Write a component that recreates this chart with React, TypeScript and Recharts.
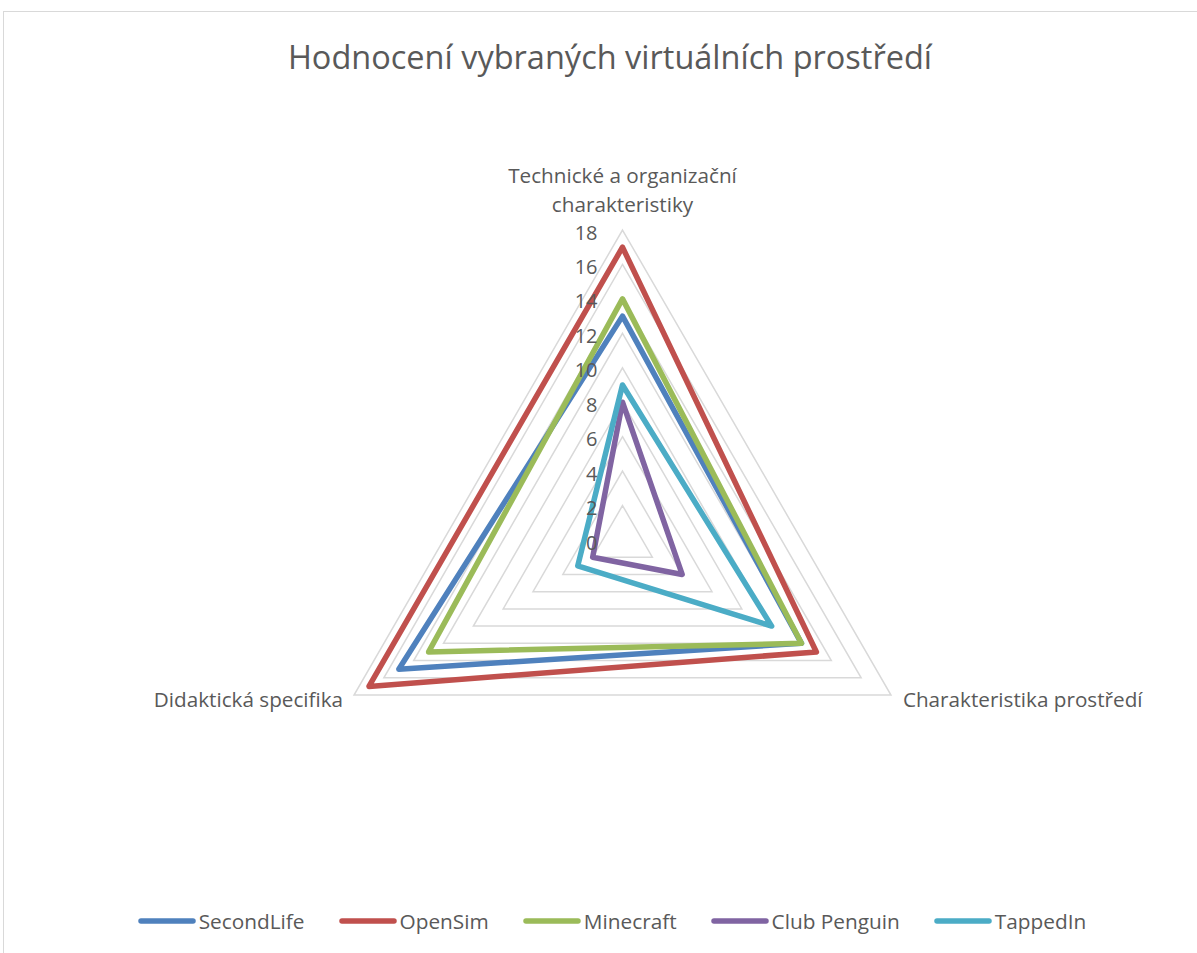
import React from 'react';
import { RadarChart, Radar, PolarGrid, PolarAngleAxis, PolarRadiusAxis, Legend } from 'recharts';

const categories = ['Technické a organizační charakteristiky', 'Charakteristika prostředí', 'Didaktická specifika'];
const categoryLines = [['Technické a organizační', 'charakteristiky'], ['Charakteristika prostředí'], ['Didaktická specifika']];
const secondLife = [13, 12, 15];
const openSim = [17, 13, 17];
const minecraft = [14, 12, 13];
const clubPenguin = [8, 4, 2];
const tappedIn = [9, 10, 3];
const radiusTicks = [0, 2, 4, 6, 8, 10, 12, 14, 16, 18];

const seriesNames = ['SecondLife', 'OpenSim', 'Minecraft', 'Club Penguin', 'TappedIn'];
const seriesKeys = ['secondLife', 'openSim', 'minecraft', 'clubPenguin', 'tappedIn'];
const seriesColors = ['#4F81BD', '#C0504D', '#9BBB59', '#8064A2', '#4BACC6'];

const data = categories.map((c, i) => ({
  category: c,
  idx: i,
  secondLife: secondLife[i],
  openSim: openSim[i],
  minecraft: minecraft[i],
  clubPenguin: clubPenguin[i],
  tappedIn: tappedIn[i],
}));

const FONT = '"Open Sans", sans-serif';
const TEXT = '#595959';

const AngleTick = (props: any) => {
  const { x, y, payload, index } = props;
  const i = typeof index === 'number' ? index : categories.indexOf(payload.value);
  const lines = categoryLines[i] || [String(payload.value)];
  if (i === 0) {
    return (
      <text x={x} y={y} textAnchor="middle" fill={TEXT} fontSize={20.7} fontFamily={FONT}>
        <tspan x={x} dy={-39}>{lines[0]}</tspan>
        <tspan x={x} dy={28.5}>{lines[1]}</tspan>
      </text>
    );
  }
  const anchor = i === 1 ? 'start' : 'end';
  const dx = i === 1 ? 5 : -4;
  return (
    <text x={x + dx} y={y + 8} textAnchor={anchor} fill={TEXT} fontSize={20.7} fontFamily={FONT}>
      {lines[0]}
    </text>
  );
};

const RadiusTick = (props: any) => {
  const { x, y, payload } = props;
  return (
    <text x={x - 25} y={y + 2} textAnchor="end" dominantBaseline="central" fill={TEXT} fontSize={20} fontFamily={FONT}>
      {payload.value}
    </text>
  );
};

const LegendContent = () => {
  return (
    <div style={{ display: 'flex', justifyContent: 'center', alignItems: 'center', gap: 34, fontFamily: FONT, fontSize: 20.8, color: TEXT }}>
      {seriesNames.map((name, i) => (
        <div key={name} style={{ display: 'flex', alignItems: 'center' }}>
          <svg width={58} height={10} style={{ marginRight: 3 }}>
            <line x1={3} y1={5} x2={55} y2={5} stroke={seriesColors[i]} strokeWidth={5.5} strokeLinecap="round" />
          </svg>
          <span>{name}</span>
        </div>
      ))}
    </div>
  );
};

export default function App() {
  return (
    <div style={{ position: 'absolute', left: 0, top: 0, width: 1197, height: 953, background: '#fff', overflow: 'hidden' }}>
      <div style={{ position: 'absolute', left: 3, top: 11, width: 1210, height: 960, border: '1px solid #d9d9d9', boxSizing: 'border-box' }} />
      <div style={{ position: 'absolute', left: 0, top: 35, width: 1220, textAlign: 'center', fontFamily: FONT, fontSize: 32.5, color: TEXT, lineHeight: '44px' }}>
        Hodnocení vybraných virtuálních prostředí
      </div>
      <div style={{ position: 'absolute', left: 0, top: 0 }}>
        <RadarChart width={1197} height={953} data={data} cx={622.5} cy={540} outerRadius={310} startAngle={90} endAngle={-270}>
          <PolarGrid gridType="polygon" radialLines={false} stroke="#d9d9d9" strokeWidth={1.5} />
          <PolarAngleAxis dataKey="category" tick={<AngleTick />} axisLine={false} tickLine={false} />
          <PolarRadiusAxis angle={90} domain={[0, 18]} ticks={radiusTicks as any} tickCount={10} axisLine={false} tickLine={false} tick={<RadiusTick />} />
          {seriesKeys.map((k, i) => (
            <Radar
              key={k}
              name={seriesNames[i]}
              dataKey={k}
              stroke={seriesColors[i]}
              strokeWidth={5.5}
              strokeLinejoin="round"
              fill="none"
              fillOpacity={0}
              dot={false}
              isAnimationActive={false}
            />
          ))}
          <Legend content={<LegendContent />} wrapperStyle={{ position: 'absolute', left: 0, top: 907, width: 1224 }} />
        </RadarChart>
      </div>
    </div>
  );
}
